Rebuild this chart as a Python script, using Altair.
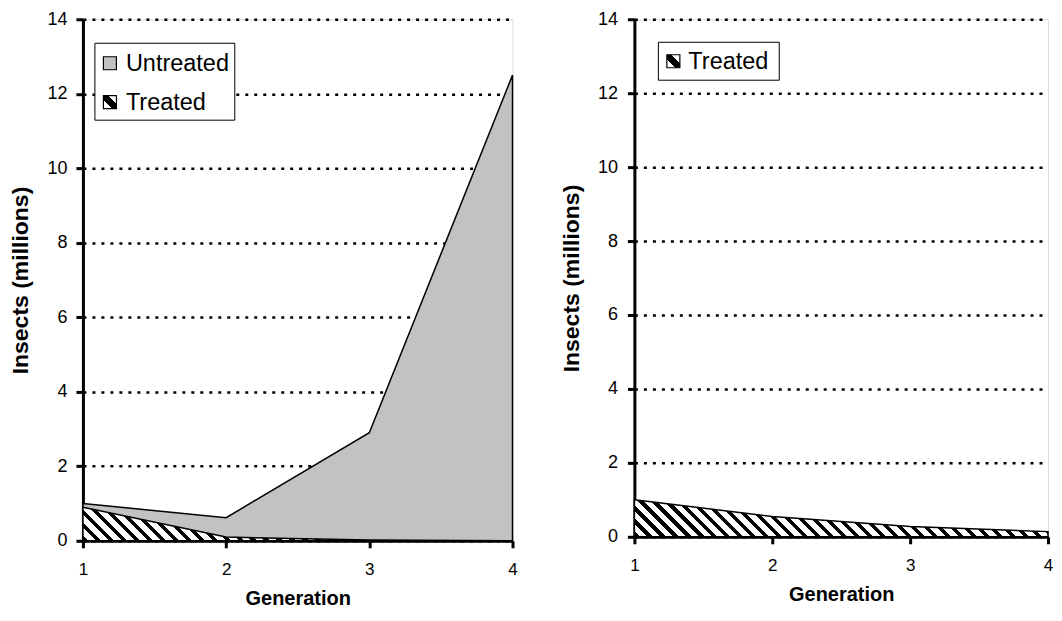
import altair as alt
import pandas as pd

# ---------------- data ----------------
generation = [1, 2, 3, 4]
untreated_left = [1.0, 0.62, 2.9, 12.5]
treated_left = [0.9, 0.1, 0.02, 0.0]
treated_right = [1.0, 0.55, 0.28, 0.14]
y_ticks = [0, 2, 4, 6, 8, 10, 12, 14]
x_ticks = [1, 2, 3, 4]
left_legend_labels = ["Untreated", "Treated"]
right_legend_labels = ["Treated"]
x_title = "Generation"
y_title = "Insects (millions)"

# ---------------- style ----------------
Y_MAX = 14
FONT = "Liberation Sans"
LW, LH = 430, 522
RW, RH = 414, 518
GREY = "#c2c2c2"
HATCH_PERIOD = 13.0
HATCH_BLACK = 0.42
TICK_FS = 18
XTICK_FS = 17
TITLE_FS_X = 20
TITLE_FS_Y = 23
LEGEND_FS = 23.5


def hatch(w, h, period=HATCH_PERIOD, black=HATCH_BLACK):
    """Diagonal '\\' stripes as a linear gradient in bounding-box units."""
    span = w + h
    stops = []
    i = 0
    while True:
        a = i * period / span
        if a >= 1:
            break
        b = min((i + black) * period / span, 1)
        c = min((i + 1) * period / span, 1)
        stops += [(a, "black"), (b, "black"), (b, "white"), (c, "white")]
        i += 1
    k = span / (w * w + h * h)
    return alt.LinearGradient(
        gradient="linear",
        stops=[alt.GradientStop(offset=o, color=col) for o, col in stops],
        x1=0, y1=1, x2=k * w, y2=1 - k * h,
    )


symbol_hatch = alt.LinearGradient(
    gradient="linear",
    stops=[alt.GradientStop(offset=0, color="white"),
           alt.GradientStop(offset=0.32, color="white"),
           alt.GradientStop(offset=0.32, color="black"),
           alt.GradientStop(offset=0.68, color="black"),
           alt.GradientStop(offset=0.68, color="white"),
           alt.GradientStop(offset=1, color="white")],
    x1=0, y1=1, x2=1, y2=0,
)


def y_axis(label_pad, title_pad):
    return alt.Axis(values=y_ticks, title=y_title, grid=True, gridColor="black",
                    gridDash=[3, 6], gridWidth=2.5, gridOpacity=1,
                    domainColor="black", domainWidth=3, domainOpacity=1,
                    tickColor="black", tickWidth=3, tickSize=7, tickOpacity=1,
                    labelPadding=label_pad, labelFont=FONT, labelFontSize=TICK_FS,
                    labelColor="black", labelFlush=False, titleFont=FONT,
                    titleFontSize=TITLE_FS_Y, titleFontWeight="bold",
                    titleColor="black", titlePadding=title_pad)


x_axis = alt.Axis(values=x_ticks, format="d", title=x_title, grid=False,
                  domainColor="black", domainWidth=3, domainOpacity=1,
                  tickColor="black", tickWidth=3, tickSize=7, tickOpacity=1,
                  labelPadding=14, labelFont=FONT, labelFontSize=XTICK_FS,
                  labelColor="black", labelFlush=False, titleFont=FONT,
                  titleFontSize=TITLE_FS_X, titleFontWeight="bold",
                  titleColor="black", titlePadding=11)

x_enc = alt.X("Generation:Q", scale=alt.Scale(domain=[1, 4], nice=False, zero=False),
              axis=x_axis)


def y_enc(field, label_pad, title_pad):
    return alt.Y(f"{field}:Q", scale=alt.Scale(domain=[0, Y_MAX], nice=False),
                 axis=y_axis(label_pad, title_pad))


def legend_layers(labels, box, sym_x, text_x, rows_y, fills):
    one = pd.DataFrame({"k": [0]})
    layers = [alt.Chart(one).mark_rect(fill="white", stroke="black", strokeWidth=1).encode(
        x=alt.value(box[0]), x2=alt.value(box[1]), y=alt.value(box[2]), y2=alt.value(box[3]))]
    for lab, ry, f in zip(labels, rows_y, fills):
        d = pd.DataFrame({"label": [lab]})
        layers.append(alt.Chart(d).mark_square(size=169, fill=f, stroke="black",
                                                strokeWidth=1.2, opacity=1).encode(
            x=alt.value(sym_x), y=alt.value(ry)))
        layers.append(alt.Chart(d).mark_text(align="left", baseline="middle", font=FONT,
                                              fontSize=LEGEND_FS, color="black").encode(
            x=alt.value(text_x), y=alt.value(ry + 1), text="label:N"))
    return layers


# ---------------- left panel ----------------
df_left = pd.DataFrame({"Generation": generation, "Untreated": untreated_left,
                        "Treated": treated_left})
h_left = max(treated_left) / Y_MAX * LH
left_untreated = alt.Chart(df_left).mark_area(fill=GREY, stroke="black", strokeWidth=1.5,
                                              opacity=1).encode(
    x=x_enc, y=y_enc("Untreated", 9, 14))
left_treated = alt.Chart(df_left).mark_area(fill=hatch(LW, h_left), stroke="black",
                                            strokeWidth=1.5, opacity=1).encode(
    x=x_enc, y=y_enc("Treated", 9, 14))
left = alt.layer(
    left_untreated, left_treated,
    *legend_layers(left_legend_labels, (12, 152, 24, 101), 27, 43, [44, 83],
                   [GREY, symbol_hatch]),
).properties(width=LW, height=LH)

# ---------------- right panel ----------------
df_right = pd.DataFrame({"Generation": generation, "Treated": treated_right})
h_right = max(treated_right) / Y_MAX * RH
right_treated = alt.Chart(df_right).mark_area(fill=hatch(RW, h_right), stroke="black",
                                              strokeWidth=1.5, opacity=1).encode(
    x=x_enc, y=y_enc("Treated", 10, 14))
right = alt.layer(
    right_treated,
    *legend_layers(right_legend_labels, (24, 145, 23, 61), 39, 54, [42],
                   [symbol_hatch]),
).properties(width=RW, height=RH)

chart = alt.hconcat(left, right, spacing=41).properties(
    padding={"left": 1, "top": 1, "right": 0, "bottom": 0}
).configure_view(stroke=None).configure(font=FONT)

chart.save("out.html", embed_options={"renderer": "svg", "actions": False})
